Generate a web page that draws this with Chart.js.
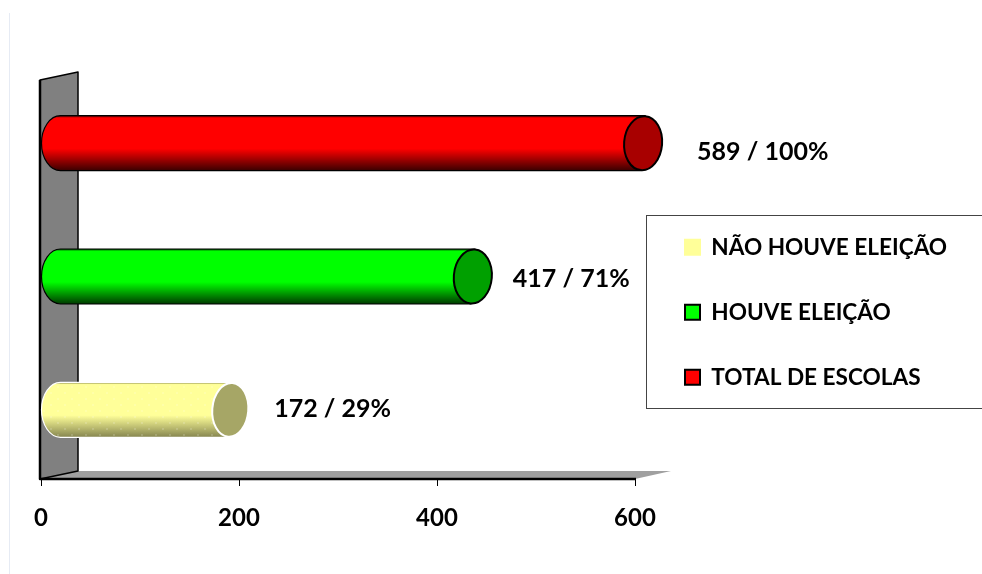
<!DOCTYPE html>
<html>
<head>
<meta charset="utf-8">
<style>
  html, body { margin: 0; padding: 0; background: #fff; }
  #chart-wrap { position: relative; width: 982px; height: 574px; overflow: hidden; }
  #chart-wrap .page-edge { position: absolute; left: 9px; top: 13px; bottom: 0; width: 1px; background: #e6ebf4; }
</style>
<script src="https://cdn.jsdelivr.net/npm/chart.js@4/dist/chart.umd.js"></script>
</head>
<body>
<div id="chart-wrap">
  <div class="page-edge"></div>
  <canvas id="schoolsChart" width="982" height="574" style="position:relative"></canvas>
</div>
<script>
const categories = ["TOTAL DE ESCOLAS", "HOUVE ELEIÇÃO", "NÃO HOUVE ELEIÇÃO"];
const schoolCounts = [589, 417, 172];
const schoolShares = [100, 71, 29];
const axisTicks = [0, 200, 400, 600];

const FONT = "Lato, 'Open Sans', sans-serif";
const barColors = ["#ff0000", "#00ff00", "#ffff99"];
const capColors = ["#a80000", "#00a000", "#a6a666"];
const shadeColors = ["#3a0000", "#003a00", "#85854f"];
const edgeColors = ["#000000", "#000000", "#ffffff"];
const DEPTH = 19; // how far the cylinders and the wall recede

const labelOffsets = [[35, 6], [21, -0.5], [25, -3]];

const stage3d = {
  id: "stage3d",
  // wall and floor go under the bars, then the bars are replaced with cylinders
  beforeDatasetsDraw(chart) {
    const ctx = chart.ctx;
    const { left, right, top, bottom } = chart.chartArea;
    const l = left - 1;
    const r = left + 37;

    ctx.save();
    ctx.fillStyle = "#a0a0a0";
    ctx.beginPath();
    ctx.moveTo(l, bottom);
    ctx.lineTo(r, bottom - 8);
    ctx.lineTo(right + 36, bottom - 8);
    ctx.lineTo(right, bottom);
    ctx.closePath();
    ctx.fill();

    ctx.fillStyle = "#808080";
    ctx.strokeStyle = "#000";
    ctx.lineJoin = "round";
    ctx.beginPath();
    ctx.moveTo(l, bottom);
    ctx.lineTo(l, top + 1);
    ctx.lineTo(r, top - 7);
    ctx.lineTo(r, bottom - 8);
    ctx.closePath();
    ctx.fill();
    ctx.lineWidth = 1.5;
    ctx.stroke();

    ctx.lineWidth = 2.5;
    ctx.beginPath();
    ctx.moveTo(l, top + 1);
    ctx.lineTo(l, bottom);
    ctx.lineTo(right + 1, bottom);
    ctx.stroke();
    ctx.restore();

    chart.getDatasetMeta(0).data.forEach((bar, i) => drawCylinder(ctx, bar, i));
    return false;
  },
  afterDraw(chart) {
    const ctx = chart.ctx;
    ctx.save();
    // frame around the legend runs off the right side
    ctx.strokeStyle = "#444";
    ctx.lineWidth = 1;
    ctx.strokeRect(646.5, 215.5, 400, 193);

    ctx.fillStyle = "#000";
    ctx.font = "bold 25px " + FONT;
    ctx.textBaseline = "middle";
    chart.getDatasetMeta(0).data.forEach((bar, i) => {
      const [dx, dy] = labelOffsets[i];
      const text = schoolCounts[i] + " / " + schoolShares[i] + "%";
      ctx.fillText(text, bar.x + DEPTH + DEPTH + dx, bar.y + dy);
    });
    ctx.restore();
  }
};

function drawCylinder(ctx, bar, i) {
  const cy = bar.y - 2.5;
  const h = bar.height;
  const ry = h / 2;
  const startX = bar.base + DEPTH;
  const endX = bar.x + DEPTH;
  const tilt = 0.08;

  const gradient = ctx.createLinearGradient(0, cy - ry, 0, cy + ry);
  gradient.addColorStop(0, shadeColors[i]);
  gradient.addColorStop(0.04, barColors[i]);
  gradient.addColorStop(0.6, barColors[i]);
  gradient.addColorStop(1, shadeColors[i]);

  ctx.save();
  ctx.fillStyle = gradient;
  ctx.strokeStyle = edgeColors[i];
  ctx.lineWidth = 1.2;

  ctx.beginPath();
  ctx.moveTo(startX, cy - ry);
  ctx.lineTo(endX + 2, cy - ry);
  ctx.lineTo(endX - 2, cy + ry);
  ctx.lineTo(startX, cy + ry);
  ctx.ellipse(startX, cy, DEPTH, ry, 0, Math.PI / 2, Math.PI * 1.5);
  ctx.closePath();
  ctx.fill();
  ctx.stroke();

  // the pale bar has a faint dotted texture
  if (i === 2) {
    ctx.fillStyle = dotPattern(ctx);
    ctx.fill();
  }

  ctx.fillStyle = capColors[i];
  ctx.lineWidth = 2;
  ctx.beginPath();
  ctx.ellipse(endX, cy, DEPTH - (i === 2 ? 1 : 0), ry - 0.5, tilt, 0, Math.PI * 2);
  ctx.fill();
  ctx.stroke();
  ctx.restore();
}

function dotPattern(ctx) {
  const tile = document.createElement("canvas");
  tile.width = 14;
  tile.height = 12;
  const t = tile.getContext("2d");
  t.fillStyle = "rgba(255,255,255,0.16)";
  t.fillRect(1, 2, 2, 2);
  t.fillRect(8, 8, 2, 2);
  return ctx.createPattern(tile, "repeat");
}

const legendPlacement = {
  id: "legendPlacement",
  // the library stacks the legend inside the plot; move it beside the bars
  afterLayout(chart) {
    const legend = chart.legend;
    const w = legend.width;
    const h = legend.height;
    legend.left = 685 - 42.4;
    legend.right = legend.left + w;
    legend.top = 236 - 42.4;
    legend.bottom = legend.top + h;
  }
};

new Chart(document.getElementById("schoolsChart"), {
  type: "bar",
  data: {
    labels: categories,
    datasets: [{
      label: "Escolas",
      data: schoolCounts,
      backgroundColor: barColors,
      categoryPercentage: 1,
      barPercentage: 0.4125
    }]
  },
  options: {
    indexAxis: "y",
    responsive: false,
    animation: false,
    layout: { padding: { left: 41, right: 347, top: 79, bottom: 0 } },
    plugins: {
      tooltip: { enabled: false },
      legend: {
        position: "chartArea",
        align: "start",
        labels: {
          color: "#000",
          font: { family: FONT, size: 22.6, weight: "bold" },
          boxWidth: 15,
          boxHeight: 15,
          padding: 42.4,
          // swatches listed bottom bar first
          generateLabels: () => categories.map((text, i) => ({
            text: text,
            fillStyle: barColors[i],
            strokeStyle: i === 2 ? barColors[i] : "#000",
            lineWidth: 2,
            index: i
          })).reverse()
        }
      }
    },
    scales: {
      x: {
        type: "linear",
        min: axisTicks[0],
        max: axisTicks[axisTicks.length - 1],
        afterBuildTicks: axis => { axis.ticks = axisTicks.map(v => ({ value: v })); },
        afterFit: axis => { axis.height = 95; },
        grid: { drawOnChartArea: false, tickLength: 7, tickColor: "#000", tickWidth: 1 },
        border: { display: false },
        ticks: {
          color: "#000",
          padding: 18,
          maxRotation: 0,
          font: { family: FONT, size: 24, weight: "bold" }
        }
      },
      y: { display: false }
    }
  },
  plugins: [stage3d, legendPlacement]
});
</script>
</body>
</html>
